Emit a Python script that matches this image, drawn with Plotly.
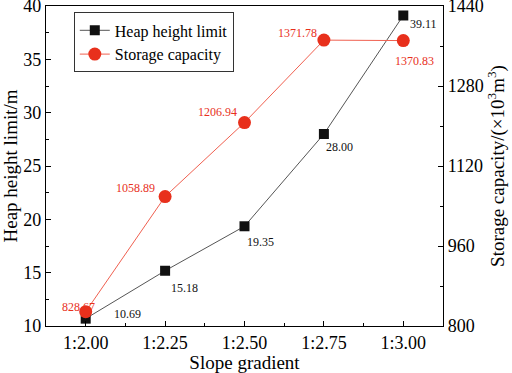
import plotly.graph_objects as go

categories = ["1:2.00", "1:2.25", "1:2.50", "1:2.75", "1:3.00"]
heap_height = [10.69, 15.18, 19.35, 28.00, 39.11]
storage_capacity = [828.67, 1058.89, 1206.94, 1371.78, 1370.83]
heap_labels = ["10.69", "15.18", "19.35", "28.00", "39.11"]
storage_labels = ["828.67", "1058.89", "1206.94", "1371.78", "1370.83"]

xi = list(range(len(categories)))
FONT = "Liberation Serif"
RED = "#e8301c"

fig = go.Figure()
fig.add_trace(go.Scatter(
    x=xi, y=heap_height, mode="lines+markers", name="Heap height limit",
    line=dict(color="#555555", width=1),
    marker=dict(symbol="square", size=10, color="#111111"),
))
fig.add_trace(go.Scatter(
    x=xi, y=storage_capacity, mode="lines+markers", name="Storage capacity",
    line=dict(color="#f06050", width=1),
    marker=dict(symbol="circle", size=13, color=RED),
    yaxis="y2",
))

heap_offsets = [(42, 5), (19, -17), (16, -16), (16, -13), (20, -9)]
stor_offsets = [(-7, 5), (-30, 9), (-27, 11), (-26, 7), (11, -20)]
ann = []
for i in xi:
    dx, dy = heap_offsets[i]
    ann.append(dict(x=xi[i], y=heap_height[i], xref="x", yref="y", text=heap_labels[i],
                    showarrow=False, xshift=dx, yshift=dy,
                    font=dict(family=FONT, size=12, color="#111111")))
    dx, dy = stor_offsets[i]
    ann.append(dict(x=xi[i], y=storage_capacity[i], xref="x", yref="y2", text=storage_labels[i],
                    showarrow=False, xshift=dx, yshift=dy,
                    font=dict(family=FONT, size=12, color=RED)))

axis_common = dict(showline=True, linecolor="black", linewidth=1.3, ticks="inside",
                   ticklen=5, tickwidth=1.2, tickcolor="black", showgrid=False,
                   zeroline=False, automargin=False, ticklabeloverflow="allow",
                   tickfont=dict(family=FONT, size=18, color="black"))

fig.update_layout(
    width=512, height=373,
    margin=dict(l=46, r=69, t=6, b=47),
    plot_bgcolor="white", paper_bgcolor="white",
    font=dict(family=FONT, color="black"),
    xaxis=dict(range=[-0.5, 4.5], tickmode="array", tickvals=xi, ticktext=categories,
               mirror=True,
               minor=dict(tickmode="linear", tick0=0.5, dtick=1, ticklen=3, ticks="inside",
                          tickcolor="black", tickwidth=1.1),
               title=dict(text="Slope gradient", font=dict(family=FONT, size=19), standoff=4),
               **axis_common),
    yaxis=dict(range=[10, 40], tickmode="linear", tick0=10, dtick=5,
               minor=dict(tickmode="linear", tick0=12.5, dtick=5, ticklen=3, ticks="inside",
                          tickcolor="black", tickwidth=1.1),
               title=dict(text="Heap height limit/m", font=dict(family=FONT, size=19), standoff=6),
               **axis_common),
    yaxis2=dict(range=[800, 1440], tickmode="linear", tick0=800, dtick=160,
                overlaying="y", side="right",
                minor=dict(tickmode="linear", tick0=880, dtick=160, ticklen=3, ticks="inside",
                           tickcolor="black", tickwidth=1.1),
                title=dict(text="Storage capacity/(×10<sup>3</sup>m<sup>3</sup>)",
                           font=dict(family=FONT, size=19), standoff=2),
                **axis_common),
    legend=dict(x=0.07, y=0.98, xanchor="left", yanchor="top",
                bordercolor="#333333", borderwidth=1, bgcolor="white",
                font=dict(family=FONT, size=16, color="black"),
                tracegroupgap=0, itemwidth=30),
    showlegend=True,
    annotations=ann,
)

fig.write_html("out.html", config={"displayModeBar": False},
               post_script="document.body.style.margin='0';document.body.style.overflow='hidden';")
